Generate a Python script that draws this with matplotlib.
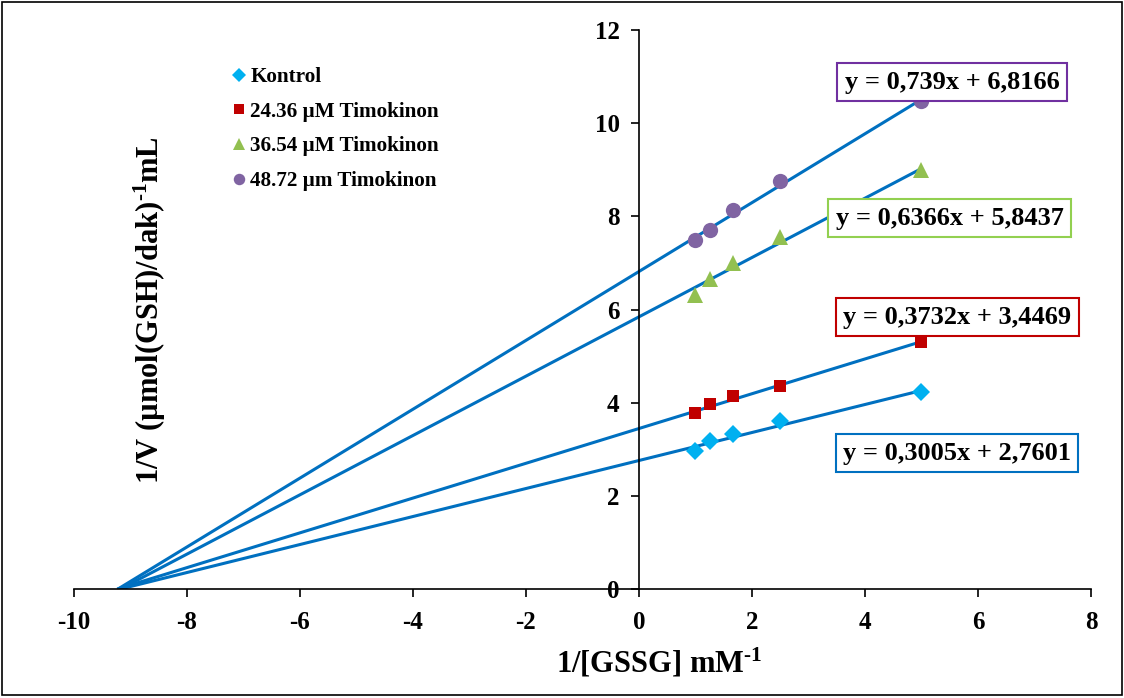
import matplotlib
matplotlib.use("Agg")
import matplotlib.pyplot as plt
import numpy as np
from matplotlib.patches import Rectangle

plt.rcParams['font.family'] = 'Liberation Serif'
plt.rcParams['font.weight'] = 'bold'
plt.rcParams['axes.unicode_minus'] = False
plt.rcParams['mathtext.fontset'] = 'custom'
plt.rcParams['mathtext.rm'] = 'Liberation Serif:bold'
plt.rcParams['mathtext.bf'] = 'Liberation Serif:bold'
plt.rcParams['mathtext.it'] = 'Liberation Serif:bold'
plt.rcParams['mathtext.default'] = 'rm'

x_vals = [1.0, 1.25, 1.667, 2.5, 5.0]
series_names = ["Kontrol", "24.36 µM Timokinon", "36.54 µM Timokinon", "48.72 µm Timokinon"]
kontrol = [2.96, 3.18, 3.33, 3.60, 4.24]
t2436 = [3.77, 3.98, 4.15, 4.37, 5.31]
t3654 = [6.32, 6.66, 7.01, 7.56, 9.00]
t4872 = [7.50, 7.70, 8.13, 8.76, 10.48]
slopes = [0.3005, 0.3732, 0.6366, 0.739]
intercepts = [2.7601, 3.4469, 5.8437, 6.8166]
eq_labels = ["y = 0,3005x + 2,7601", "y = 0,3732x + 3,4469",
             "y = 0,6366x + 5,8437", "y = 0,739x + 6,8166"]

colors = ["#00B0F0", "#C00000", "#92C050", "#8064A2"]
markers = ["D", "s", "^", "o"]
msizes = [9, 9, 11, 11]
line_color = "#0070C0"

fig = plt.figure(figsize=(11.24, 6.98), dpi=100)
ax = fig.add_axes([0.0658, 0.156, 0.9048, 0.801])
ax.set_xlim(-10, 8)
ax.set_ylim(0, 12)

data = [kontrol, t2436, t3654, t4872]
for ys, m, b in zip(data, slopes, intercepts):
    x0 = -b / m
    xs = np.array([x0, 5.0])
    ax.plot(xs, m * xs + b, color=line_color, lw=2.2, zorder=2, solid_capstyle='butt')
for ys, c, mk, ms, name in zip(data, colors, markers, msizes, series_names):
    ax.plot(x_vals, ys, linestyle='none', marker=mk, color=c, markersize=ms,
            markeredgewidth=0, zorder=3, label=name)

for s in ['top', 'right']:
    ax.spines[s].set_visible(False)
ax.spines['left'].set_position(('data', 0))
ax.spines['bottom'].set_position(('data', 0))
ax.spines['left'].set_linewidth(1.2)
ax.spines['bottom'].set_linewidth(1.2)
ax.set_xticks(np.arange(-10, 9, 2))
ax.set_yticks(np.arange(0, 13, 2))
ax.tick_params(axis='both', direction='out', length=6, width=1.2, labelsize=18)
ax.tick_params(axis='x', pad=10)
ax.tick_params(axis='y', pad=8)
for lab in ax.get_xticklabels() + ax.get_yticklabels():
    lab.set_fontweight('bold')

leg = ax.legend(loc='upper left', bbox_to_anchor=(0.133, 0.968), frameon=False,
                prop={'size': 15.2, 'weight': 'bold'}, handletextpad=0.05,
                labelspacing=0.7, handlelength=1.0, markerscale=0.75)

# equation boxes (centres in data coords)
eq_pos = [(5.63, 2.92), (5.63, 5.84), (5.5, 7.96), (5.54, 10.88)]
for lab, c, (px, py) in zip(eq_labels, [line_color, "#C00000", "#92D050", "#7030A0"], eq_pos):
    ax.text(px, py, lab, fontsize=19, fontweight='bold', ha='center', va='center',
            bbox=dict(boxstyle='square,pad=0.28', facecolor='white', edgecolor=c, linewidth=1.5),
            zorder=5)

fig.text(0.586, 0.05, r"1/[GSSG] mM$^{\text{-1}}$", fontsize=22, fontweight='bold', ha='center', va='center')
fig.text(0.133, 0.556, r"1/V (µmol(GSH)/dak)$^{\text{-1}}$mL", fontsize=22, fontweight='bold',
         ha='center', va='center', rotation=90)

fig.patches.append(Rectangle((0.002, 0.004), 0.996, 0.993, transform=fig.transFigure,
                             fill=False, edgecolor='black', linewidth=1.2))

fig.savefig("out.png", dpi=100)
